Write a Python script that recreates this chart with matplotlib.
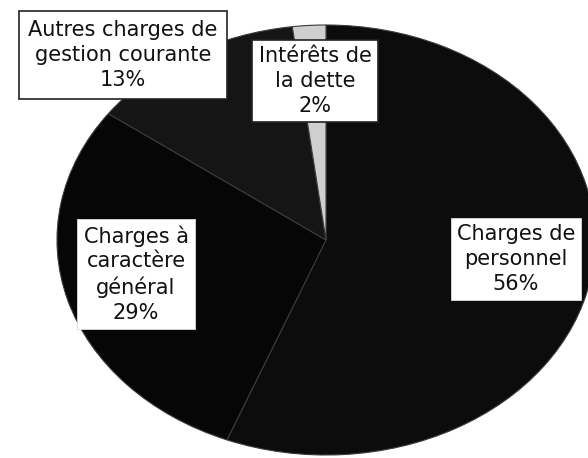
import matplotlib
matplotlib.use("Agg")
import matplotlib.pyplot as plt

# Data
categories = ["Charges de\npersonnel", "Charges à\ncaractère\ngénéral",
              "Autres charges de\ngestion courante", "Intérêts de\nla dette"]
values = [56, 29, 13, 2]
colors = ["#0c0c0c", "#060606", "#151515", "#cfcfcf"]

W, H = 588, 458
fig = plt.figure(figsize=(W / 100, H / 100), dpi=100)
fig.patch.set_facecolor("white")

# pie ellipse in pixel coords: center (326, 240), rx 269, ry 215
cx, cy, rx, ry = 326, 240, 269, 215
ax = fig.add_axes([(cx - rx) / W, (H - cy - ry) / H, 2 * rx / W, 2 * ry / H])

wedges, _ = ax.pie(values, colors=colors, startangle=90, counterclock=False,
                   radius=1, wedgeprops=dict(edgecolor="#3a3a3a", linewidth=0.8))
ax.set_aspect("auto")
ax.set_xlim(-1, 1)
ax.set_ylim(-1, 1)
ax.axis("off")
for w in wedges:
    w.set_clip_on(False)

# label positions (figure pixel centers) and box paddings
label_pos = [(516, 259), (136, 274), (123, 55), (315, 81)]
label_pad = [0.3, 0.3, 0.45, 0.32]
bordered = [False, False, True, True]

def px2fig(x, y):
    return x / W, 1 - y / H

for cat, val, (x, y), pad, bd in zip(categories, values, label_pos,
                                     label_pad, bordered):
    fx, fy = px2fig(x, y)
    fig.text(fx, fy, f"{cat}\n{val}%", ha="center", va="center",
             fontsize=15, family=["DejaVu Sans"], color="#111111",
             linespacing=1.3,
             bbox=dict(boxstyle=f"square,pad={pad}", facecolor="white",
                       edgecolor="#222222" if bd else "#dddddd",
                       linewidth=1.2 if bd else 0.6))

fig.savefig("out.png", dpi=100, facecolor="white")
